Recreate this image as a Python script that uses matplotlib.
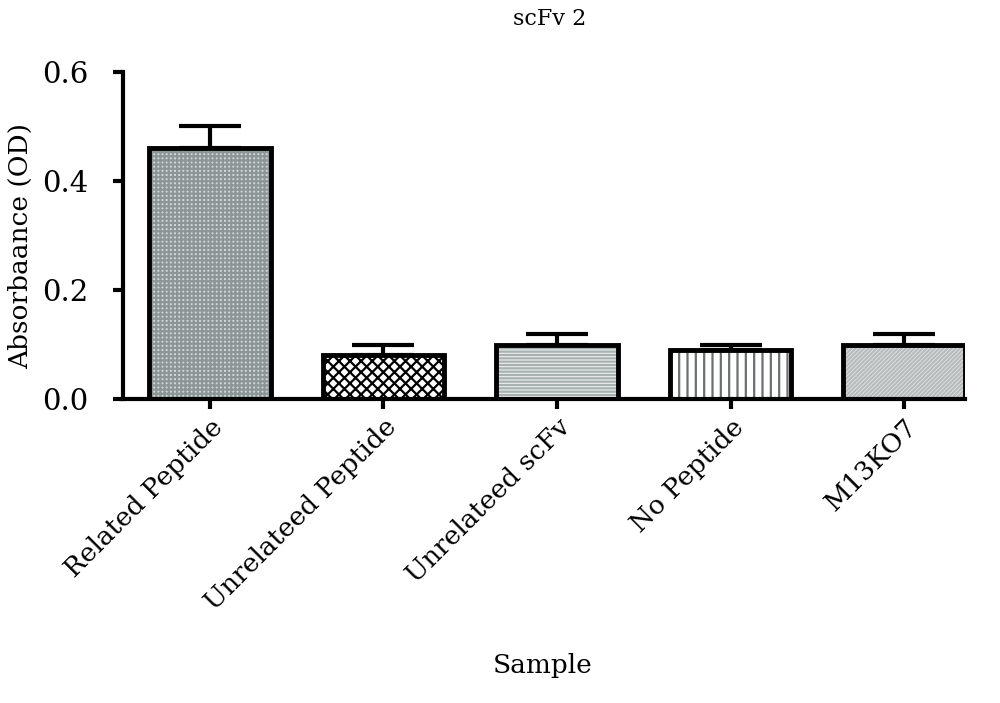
import matplotlib
matplotlib.use("Agg")
import matplotlib.pyplot as plt

samples = ["Related Peptide", "Unrelateed Peptide", "Unrelateed scFv", "No Peptide", "M13KO7"]
absorbance = [0.46, 0.08, 0.10, 0.09, 0.10]
err_up = [0.04, 0.02, 0.02, 0.01, 0.02]

fills = ["#d2d8d8", "white", "#eef0f0", "white", "#e4e8e8"]
hatch_cols = ["#8c9696", "black", "#a8b0b0", "#6a7070", "#b8bcbc"]
hatches = ["++++", "xxx", "-----", "||", "////////"]

plt.rcParams["font.family"] = ["DejaVu Serif"]
plt.rcParams["hatch.linewidth"] = 1.6

fig = plt.figure(figsize=(10, 7.03), dpi=100)
ax = fig.add_axes([0.123, 0.4324, 0.842, 0.4652])

x = list(range(len(samples)))
for i in x:
    # hatch layer, then black outline on top
    ax.bar(i, absorbance[i], width=0.70, color=fills[i], hatch=hatches[i],
           edgecolor=hatch_cols[i], linewidth=0, zorder=2)
    ax.bar(i, absorbance[i], width=0.70, fill=False, edgecolor="black",
           linewidth=3.5, zorder=3)

ax.errorbar(x, absorbance, yerr=[[0] * len(x), err_up], fmt="none",
            ecolor="black", elinewidth=3, capsize=22, capthick=3, zorder=1)

ax.set_xlim(-0.5, 4.35)
ax.set_ylim(0, 0.6)
ax.set_yticks([0.0, 0.2, 0.4, 0.6])
ax.set_yticklabels(["0.0", "0.2", "0.4", "0.6"])
ax.set_xticks(x)
ax.set_xticklabels(samples, rotation=45, ha="right", rotation_mode="anchor")

ax.spines["top"].set_visible(False)
ax.spines["right"].set_visible(False)
ax.spines["left"].set_linewidth(3)
ax.spines["bottom"].set_linewidth(3)
ax.tick_params(axis="both", direction="out", length=7, width=3)
ax.tick_params(axis="y", labelsize=21, pad=18)
ax.tick_params(axis="x", labelsize=19, pad=4)

fig.text(0.021, 0.65, "Absorbaance (OD)", rotation=90, fontsize=19,
         ha="center", va="center")
fig.text(0.543, 0.054, "Sample", fontsize=19, ha="center", va="center")
fig.text(0.55, 0.973, "scFv 2", fontsize=16, ha="center", va="center")

fig.savefig("out.png", dpi=100)
